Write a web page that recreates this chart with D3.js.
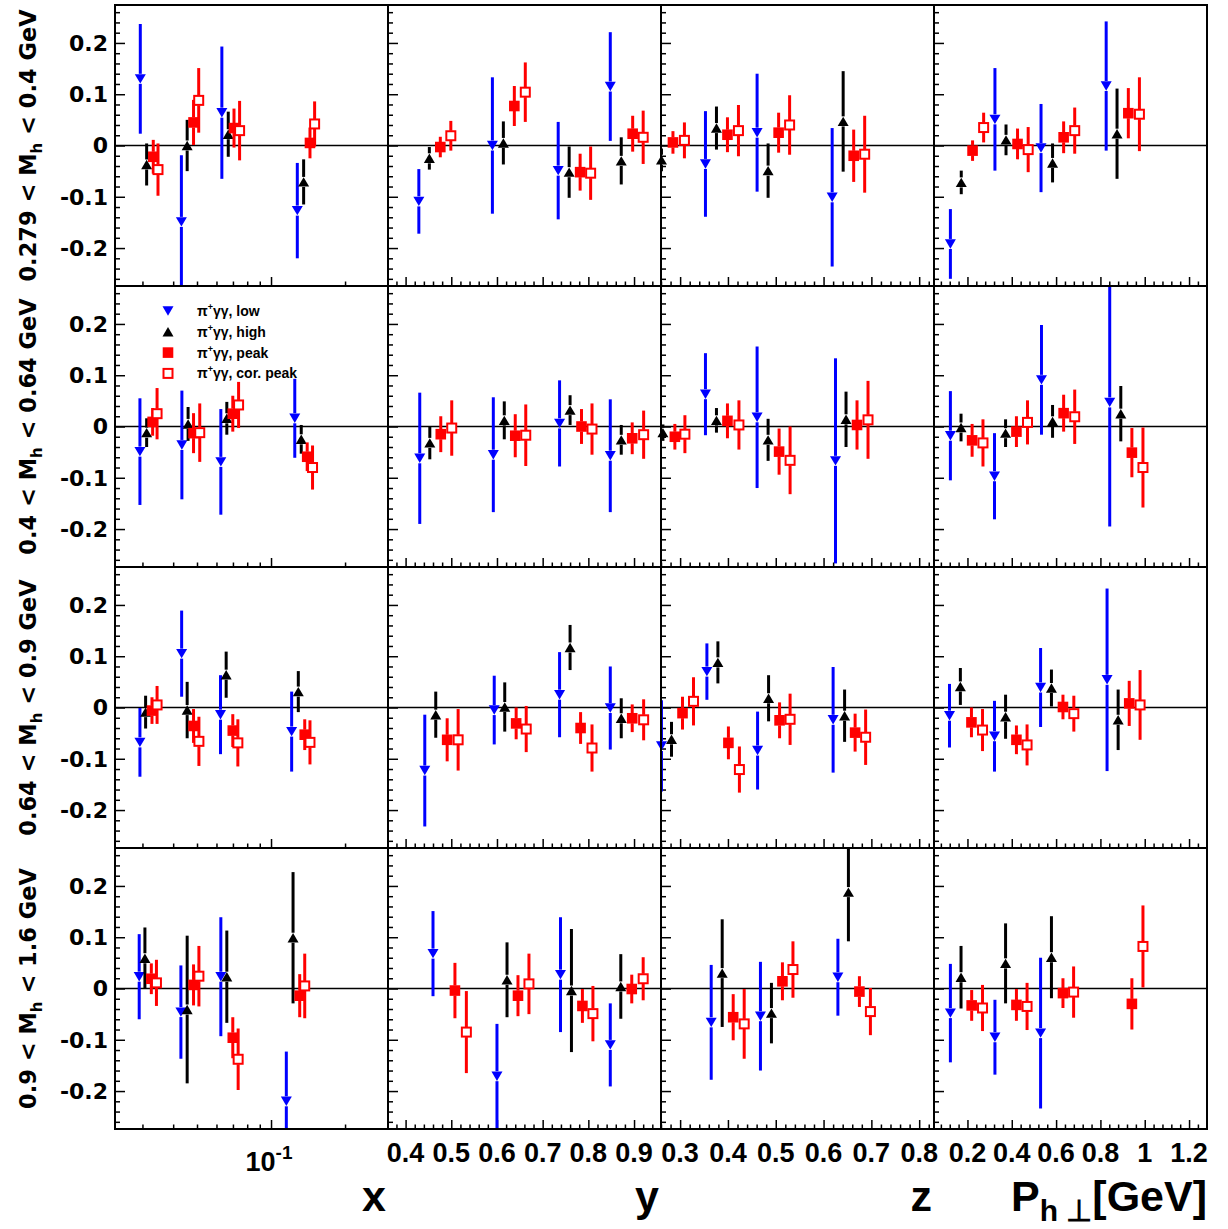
<!DOCTYPE html>
<html>
<head>
<meta charset="utf-8">
<script src="https://cdn.jsdelivr.net/npm/d3@7"></script>
<style>
body { margin: 0; background: #fff; }
svg { display: block; }
</style>
</head>
<body>
<div id="chart"></div>
<script>
// Mass bins (rows) and kinematic variables (columns)
var rowLabels = [['0.279', '0.4'], ['0.4', '0.64'], ['0.64', '0.9'], ['0.9', '1.6']]
var colDomains = [[0.0232, 0.299], [0.3615, 0.959], [0.26, 0.831], [0.049, 1.281]]
var colMajorTicks = [[0.1], [0.4, 0.5, 0.6, 0.7, 0.8, 0.9], [0.3, 0.4, 0.5, 0.6, 0.7, 0.8], [0.2, 0.4, 0.6, 0.8, 1, 1.2]]
var logMinorTicks = [0.03, 0.04, 0.05, 0.06, 0.07, 0.08, 0.09, 0.2]
var yMajorTicks = [-0.2, -0.1, 0, 0.1, 0.2]
var yDomain = [-0.274, 0.274]

// [row, col, x, asymmetry, error]
var lowData = [
  [0,0,0.0294,0.130,0.107],[0,0,0.0432,-0.149,0.13],[0,0,0.0631,0.064,0.129],[0,0,0.1279,-0.127,0.093],
  [0,1,0.429,-0.109,0.063],[0,1,0.590,0.000,0.133],[0,1,0.734,-0.049,0.095],[0,1,0.848,0.115,0.106],
  [0,2,0.353,-0.036,0.103],[0,2,0.461,0.025,0.115],[0,2,0.618,-0.101,0.135],
  [0,3,0.123,-0.192,0.068],[0,3,0.324,0.051,0.100],[0,3,0.532,-0.005,0.086],[0,3,0.826,0.116,0.126],
  [1,0,0.0293,-0.049,0.104],[1,0,0.0434,-0.036,0.106],[1,0,0.0625,-0.069,0.103],[1,0,0.1249,0.016,0.077],
  [1,1,0.431,-0.062,0.128],[1,1,0.592,-0.055,0.112],[1,1,0.737,0.006,0.084],[1,1,0.848,-0.057,0.110],
  [1,2,0.353,0.063,0.080],[1,2,0.461,0.018,0.138],[1,2,0.625,-0.067,0.200],
  [1,3,0.123,-0.018,0.087],[1,3,0.322,-0.097,0.084],[1,3,0.534,0.091,0.107],[1,3,0.842,0.047,0.242],
  [2,0,0.0293,-0.068,0.067],[2,0,0.0433,0.105,0.084],[2,0,0.0623,-0.014,0.077],[2,0,0.1213,-0.047,0.078],
  [2,1,0.442,-0.123,0.109],[2,1,0.594,-0.005,0.067],[2,1,0.737,0.025,0.083],[2,1,0.848,-0.001,0.081],
  [2,2,0.261,-0.075,0.089],[2,2,0.356,0.070,0.055],[2,2,0.462,-0.084,0.076],[2,2,0.620,-0.024,0.103],
  [2,3,0.119,-0.016,0.062],[2,3,0.322,-0.056,0.069],[2,3,0.530,0.039,0.077],[2,3,0.830,0.054,0.178],
  [3,0,0.0291,0.023,0.083],[3,0,0.0430,-0.046,0.091],[3,0,0.0625,0.023,0.116],[3,0,0.1154,-0.220,0.097],
  [3,1,0.460,0.068,0.083],[3,1,0.600,-0.171,0.102],[3,1,0.739,0.027,0.112],[3,1,0.848,-0.110,0.081],
  [3,2,0.365,-0.066,0.112],[3,2,0.468,-0.054,0.106],[3,2,0.630,0.022,0.075],
  [3,3,0.123,-0.048,0.096],[3,3,0.324,-0.095,0.073],[3,3,0.530,-0.087,0.147]
]

var highData = [
  [0,0,0.0312,-0.037,0.041],[0,0,0.0456,0.000,0.050],[0,0,0.0670,0.022,0.044],[0,0,0.1357,-0.071,0.044],
  [0,1,0.452,-0.025,0.022],[0,1,0.614,0.005,0.042],[0,1,0.758,-0.052,0.050],[0,1,0.872,-0.030,0.046],
  [0,2,0.261,-0.028,0.022],[0,2,0.376,0.034,0.042],[0,2,0.484,-0.049,0.053],[0,2,0.641,0.047,0.098],
  [0,3,0.172,-0.072,0.023],[0,3,0.374,0.011,0.030],[0,3,0.584,-0.034,0.038],[0,3,0.875,0.023,0.088],
  [1,0,0.0312,-0.012,0.028],[1,0,0.0460,0.005,0.033],[1,0,0.0661,0.016,0.032],[1,0,0.1327,-0.025,0.028],
  [1,1,0.453,-0.032,0.032],[1,1,0.616,0.012,0.037],[1,1,0.760,0.032,0.029],[1,1,0.872,-0.026,0.029],
  [1,2,0.264,-0.012,0.016],[1,2,0.376,0.012,0.024],[1,2,0.484,-0.026,0.041],[1,2,0.647,0.014,0.054],
  [1,3,0.171,-0.002,0.027],[1,3,0.372,-0.013,0.027],[1,3,0.584,0.010,0.032],[1,3,0.892,0.025,0.054],
  [2,0,0.0309,-0.009,0.032],[2,0,0.0456,-0.005,0.055],[2,0,0.0657,0.064,0.045],[2,0,0.1291,0.031,0.040],
  [2,1,0.466,-0.014,0.045],[2,1,0.617,0.001,0.048],[2,1,0.760,0.117,0.044],[2,1,0.872,-0.021,0.039],
  [2,2,0.282,-0.062,0.034],[2,2,0.379,0.088,0.041],[2,2,0.485,0.018,0.045],[2,2,0.644,-0.016,0.051],
  [2,3,0.168,0.041,0.036],[2,3,0.372,-0.018,0.043],[2,3,0.579,0.038,0.036],[2,3,0.880,-0.024,0.059],
  [3,0,0.0307,0.059,0.060],[3,0,0.0456,-0.041,0.144],[3,0,0.0661,0.023,0.090],[3,0,0.1229,0.099,0.128],
  [3,1,0.622,0.017,0.073],[3,1,0.763,-0.004,0.120],[3,1,0.871,0.004,0.063],
  [3,2,0.388,0.030,0.105],[3,2,0.491,-0.048,0.059],[3,2,0.652,0.188,0.096],
  [3,3,0.171,0.022,0.061],[3,3,0.372,0.049,0.078],[3,3,0.579,0.061,0.080]
]

var peakData = [
  [0,0,0.0332,-0.022,0.033],[0,0,0.0484,0.045,0.044],[0,0,0.0707,0.034,0.038],[0,0,0.1440,0.005,0.030],
  [0,1,0.476,-0.003,0.020],[0,1,0.638,0.077,0.039],[0,1,0.782,-0.052,0.036],[0,1,0.897,0.023,0.035],
  [0,2,0.285,0.006,0.022],[0,2,0.399,0.021,0.034],[0,2,0.506,0.025,0.039],[0,2,0.663,-0.020,0.051],
  [0,3,0.223,-0.010,0.020],[0,3,0.426,0.003,0.030],[0,3,0.634,0.016,0.031],[0,3,0.926,0.063,0.049],
  [1,0,0.0330,0.009,0.027],[1,0,0.0484,-0.013,0.039],[1,0,0.0699,0.025,0.035],[1,0,0.1403,-0.059,0.028],
  [1,1,0.477,-0.015,0.035],[1,1,0.640,-0.018,0.042],[1,1,0.785,0.000,0.034],[1,1,0.896,-0.023,0.031],
  [1,2,0.289,-0.020,0.025],[1,2,0.399,0.011,0.034],[1,2,0.507,-0.049,0.045],[1,2,0.670,0.003,0.048],
  [1,3,0.221,-0.027,0.032],[1,3,0.421,-0.010,0.030],[1,3,0.634,0.026,0.036],[1,3,0.942,-0.051,0.048],
  [2,0,0.0328,-0.006,0.026],[2,0,0.0484,-0.036,0.033],[2,0,0.0699,-0.045,0.032],[2,0,0.1371,-0.053,0.030],
  [2,1,0.491,-0.063,0.042],[2,1,0.642,-0.031,0.031],[2,1,0.783,-0.040,0.031],[2,1,0.896,-0.021,0.027],
  [2,2,0.305,-0.011,0.032],[2,2,0.401,-0.069,0.032],[2,2,0.508,-0.025,0.035],[2,2,0.666,-0.049,0.037],
  [2,3,0.218,-0.029,0.029],[2,3,0.421,-0.063,0.028],[2,3,0.631,0.001,0.024],[2,3,0.930,0.008,0.044],
  [3,0,0.0326,0.019,0.030],[3,0,0.0484,0.007,0.040],[3,0,0.0699,-0.096,0.040],[3,0,0.1308,-0.014,0.042],
  [3,1,0.508,-0.004,0.054],[3,1,0.646,-0.014,0.040],[3,1,0.787,-0.034,0.033],[3,1,0.895,-0.001,0.028],
  [3,2,0.411,-0.056,0.045],[3,2,0.514,0.014,0.037],[3,2,0.675,-0.006,0.030],
  [3,3,0.219,-0.033,0.030],[3,3,0.421,-0.032,0.031],[3,3,0.631,-0.009,0.029],[3,3,0.942,-0.030,0.050]
]

var corPeakData = [
  [0,0,0.0347,-0.047,0.051],[0,0,0.0508,0.088,0.063],[0,0,0.0745,0.029,0.058],[0,0,0.1504,0.042,0.044],
  [0,1,0.499,0.019,0.029],[0,1,0.662,0.104,0.058],[0,1,0.805,-0.054,0.052],[0,1,0.920,0.016,0.052],
  [0,2,0.309,0.010,0.035],[0,2,0.422,0.029,0.050],[0,2,0.529,0.040,0.058],[0,2,0.686,-0.017,0.075],
  [0,3,0.273,0.035,0.029],[0,3,0.474,-0.008,0.044],[0,3,0.684,0.029,0.045],[0,3,0.976,0.061,0.072],
  [1,0,0.0344,0.025,0.050],[1,0,0.0513,-0.012,0.057],[1,0,0.0738,0.042,0.045],[1,0,0.1475,-0.080,0.043],
  [1,1,0.501,-0.003,0.054],[1,1,0.663,-0.017,0.060],[1,1,0.808,-0.005,0.050],[1,1,0.921,-0.016,0.047],
  [1,2,0.310,-0.015,0.037],[1,2,0.423,0.003,0.048],[1,2,0.530,-0.066,0.066],[1,2,0.693,0.013,0.076],
  [1,3,0.270,-0.032,0.046],[1,3,0.471,0.008,0.043],[1,3,0.684,0.019,0.053],[1,3,0.992,-0.080,0.078],
  [2,0,0.0344,0.005,0.037],[2,0,0.0509,-0.066,0.048],[2,0,0.0733,-0.069,0.046],[2,0,0.1440,-0.068,0.043],
  [2,1,0.515,-0.063,0.060],[2,1,0.664,-0.042,0.045],[2,1,0.808,-0.079,0.046],[2,1,0.921,-0.024,0.040],
  [2,2,0.328,0.012,0.047],[2,2,0.424,-0.121,0.045],[2,2,0.530,-0.023,0.050],[2,2,0.688,-0.058,0.054],
  [2,3,0.268,-0.044,0.041],[2,3,0.469,-0.073,0.040],[2,3,0.680,-0.012,0.035],[2,3,0.979,0.005,0.068],
  [3,0,0.0342,0.011,0.045],[3,0,0.0509,0.024,0.059],[3,0,0.0735,-0.138,0.060],[3,0,0.1371,0.005,0.063],
  [3,1,0.533,-0.085,0.080],[3,1,0.670,0.009,0.059],[3,1,0.810,-0.049,0.054],[3,1,0.920,0.019,0.042],
  [3,2,0.434,-0.069,0.068],[3,2,0.536,0.037,0.055],[3,2,0.698,-0.045,0.046],
  [3,3,0.268,-0.038,0.045],[3,3,0.469,-0.035,0.046],[3,3,0.679,-0.007,0.050],[3,3,0.992,0.082,0.080]
]

var series = [
  {label: 'low', data: lowData, color: '#0000ff', shape: 'down'},
  {label: 'high', data: highData, color: '#000000', shape: 'up'},
  {label: 'peak', data: peakData, color: '#ff0000', shape: 'square'},
  {label: 'cor. peak', data: corPeakData, color: '#ff0000', shape: 'open'}
]

// --- layout
var W = 1228, H = 1229
var pw = 273, ph = 281
var frameLeft = 115, frameTop = 5
var labelFont = 'Liberation Sans, Arial, Helvetica, sans-serif'
var wideFont = 'DejaVu Sans, Verdana, sans-serif'

var svg = d3.select('#chart').append('svg')
    .attr('width', W)
    .attr('height', H)
    .style('background', '#fff')

svg.append('defs').append('clipPath')
    .attr('id', 'panelClip')
  .append('rect')
    .attr('x', 0).attr('y', 0)
    .attr('width', pw).attr('height', ph)

var y = d3.scaleLinear().domain(yDomain).range([ph, 0])
var xScales = colDomains.map(function(d, i){
  return (i === 0 ? d3.scaleLog() : d3.scaleLinear()).domain(d).range([0, pw])
})

var yMinor = d3.range(-26, 27, 2).map(function(v){ return v / 100 })
    .filter(function(v){ return yMajorTicks.indexOf(v) < 0 })

function minorTicks(c){
  if (c === 0) return logMinorTicks
  var steps = [null, [0.38, 0.94, 0.02], [0.26, 0.82, 0.02], [0.08, 1.28, 0.04]][c]
  var out = []
  for (var v = steps[0]; v <= steps[1] + 1e-9; v += steps[2]) {
    var rv = Math.round(v * 100) / 100
    if (colMajorTicks[c].indexOf(rv) < 0) out.push(rv)
  }
  return out
}

function markerPath(shape){
  if (shape === 'down') return 'M-5.5,-4.7L5.5,-4.7L0,4.7Z'
  if (shape === 'up') return 'M-5.5,4.7L5.5,4.7L0,-4.7Z'
  return 'M-5.3,-5.3L5.3,-5.3L5.3,5.3L-5.3,5.3Z'
}

function drawMarker(sel, s){
  if (s.shape === 'open') {
    sel.append('rect')
      .attr('x', -4.5).attr('y', -4.5)
      .attr('width', 9).attr('height', 9)
      .attr('fill', '#fff')
      .attr('stroke', s.color)
      .attr('stroke-width', 2)
  } else {
    sel.append('path')
      .attr('d', markerPath(s.shape))
      .attr('fill', s.color)
  }
}

for (var r = 0; r < 4; r++) {
  for (var c = 0; c < 4; c++) {
    drawPanel(r, c)
  }
}

function drawPanel(r, c){
  var x = xScales[c]
  var g = svg.append('g')
      .attr('transform', 'translate(' + (frameLeft + c * pw) + ',' + (frameTop + r * ph) + ')')

  // ticks (inside the frame, left and bottom)
  var yAxisMajor = d3.axisLeft(y).tickValues(yMajorTicks).tickSize(-10).tickFormat('')
  var yAxisMinor = d3.axisLeft(y).tickValues(yMinor).tickSize(-5).tickFormat('')
  var xAxisMajor = d3.axisBottom(x).tickValues(colMajorTicks[c]).tickSize(-9).tickFormat('')
  var xAxisMinor = d3.axisBottom(x).tickValues(minorTicks(c)).tickSize(-4.5).tickFormat('')
  ;[yAxisMajor, yAxisMinor].forEach(function(ax){
    var a = g.append('g').call(ax)
    a.select('.domain').remove()
    a.selectAll('line').attr('stroke', '#000').attr('stroke-width', 1.5)
  })
  ;[xAxisMajor, xAxisMinor].forEach(function(ax){
    var a = g.append('g').attr('transform', 'translate(0,' + ph + ')').call(ax)
    a.select('.domain').remove()
    a.selectAll('line').attr('stroke', '#000').attr('stroke-width', 1.5)
  })

  // zero line
  g.append('line')
      .attr('x1', 0).attr('x2', pw)
      .attr('y1', y(0)).attr('y2', y(0))
      .attr('stroke', '#000')
      .attr('stroke-width', 1.6)

  // points
  series.forEach(function(s){
    var pts = s.data.filter(function(d){
      return d[0] === r && d[1] === c && d[2] >= colDomains[c][0] && d[2] <= colDomains[c][1]
    })
    var bars = g.append('g').attr('clip-path', 'url(#panelClip)')
    var gap = 5
    bars.selectAll('line.up')
        .data(pts)
      .enter().append('line')
        .attr('x1', function(d){ return x(d[2]) })
        .attr('x2', function(d){ return x(d[2]) })
        .attr('y1', function(d){ return y(d[3]) - gap })
        .attr('y2', function(d){ return y(d[3] + d[4]) })
        .attr('stroke', s.color)
        .attr('stroke-width', 3)
    bars.selectAll('line.down')
        .data(pts)
      .enter().append('line')
        .attr('x1', function(d){ return x(d[2]) })
        .attr('x2', function(d){ return x(d[2]) })
        .attr('y1', function(d){ return y(d[3]) + gap })
        .attr('y2', function(d){ return y(d[3] - d[4]) })
        .attr('stroke', s.color)
        .attr('stroke-width', 3)

    var marks = g.selectAll(null)
        .data(pts.filter(function(d){ return d[3] >= yDomain[0] && d[3] <= yDomain[1] }))
      .enter().append('g')
        .attr('transform', function(d){ return 'translate(' + x(d[2]) + ',' + y(d[3]) + ')' })
    drawMarker(marks, s)
  })

  // frame
  g.append('rect')
      .attr('x', 0).attr('y', 0)
      .attr('width', pw).attr('height', ph)
      .attr('fill', 'none')
      .attr('stroke', '#000')
      .attr('stroke-width', 2)

  // y tick labels on the first column
  if (c === 0) {
    g.selectAll('text.ylab')
        .data(yMajorTicks)
      .enter().append('text')
        .attr('x', -7)
        .attr('y', function(d){ return y(d) })
        .attr('dy', '0.36em')
        .attr('text-anchor', 'end')
        .attr('font-family', wideFont)
        .attr('font-weight', 'bold')
        .attr('font-size', '22px')
        .text(function(d){ return d === 0 ? '0' : d3.format('.1f')(d).replace('\u2212', '-') })

    // row label
    var rl = svg.append('text')
        .attr('transform', 'translate(36,' + (frameTop + r * ph + ph / 2) + ') rotate(-90)')
        .attr('text-anchor', 'middle')
        .attr('font-family', wideFont)
        .attr('font-weight', 'bold')
        .attr('font-size', '22.5px')
    rl.append('tspan').text(rowLabels[r][0] + ' < M')
    rl.append('tspan').attr('font-size', '15px').attr('dy', 6).text('h')
    rl.append('tspan').attr('dy', -6).text(' < ' + rowLabels[r][1] + ' GeV')
  }

  // x tick labels on the bottom row
  if (r === 3) {
    if (c === 0) {
      var t = g.append('text')
          .attr('x', x(0.1) - 2)
          .attr('y', ph + 42)
          .attr('text-anchor', 'middle')
          .attr('font-family', labelFont)
          .attr('font-weight', 'bold')
          .attr('font-size', '27px')
      t.append('tspan').text('10')
      t.append('tspan').attr('font-size', '19px').attr('dy', -12).text('-1')
    } else {
      g.selectAll('text.xlab')
          .data(colMajorTicks[c])
        .enter().append('text')
          .attr('x', function(d){ return x(d) })
          .attr('y', ph + 33)
          .attr('text-anchor', 'middle')
          .attr('font-family', labelFont)
          .attr('font-weight', 'bold')
          .attr('font-size', '27px')
          .text(function(d){ return String(d) })
    }
  }

  // legend in the second row, first column
  if (r === 1 && c === 0) {
    var lg = g.append('g').attr('transform', 'translate(53,25)')
    series.forEach(function(s, i){
      var row = lg.append('g').attr('transform', 'translate(0,' + (i * 20.8) + ')')
      drawMarker(row, s)
      var txt = row.append('text')
          .attr('x', 29)
          .attr('y', 5)
          .attr('font-family', labelFont)
          .attr('font-weight', 'bold')
          .attr('font-size', '14px')
      txt.append('tspan').text('\u03c0')
      txt.append('tspan').attr('font-size', '9px').attr('dy', -6).text('+')
      txt.append('tspan').attr('dy', 6).text('\u03b3\u03b3, ' + s.label)
    })
  }
}

// axis titles, right aligned to each column
var titleY = frameTop + 4 * ph + 82
var titles = ['x', 'y', 'z']
titles.forEach(function(tt, i){
  svg.append('text')
      .attr('x', frameLeft + (i + 1) * pw - 2)
      .attr('y', titleY)
      .attr('text-anchor', 'end')
      .attr('font-family', labelFont)
      .attr('font-weight', 'bold')
      .attr('font-size', '43px')
      .text(tt)
})
var pt = svg.append('text')
    .attr('x', frameLeft + 4 * pw)
    .attr('y', titleY)
    .attr('text-anchor', 'end')
    .attr('font-family', labelFont)
    .attr('font-weight', 'bold')
    .attr('font-size', '43px')
pt.append('tspan').text('P')
pt.append('tspan').attr('font-size', '30px').attr('dy', 10).text('h \u22a5')
pt.append('tspan').attr('dy', -10).text('[GeV]')
</script>
</body>
</html>
